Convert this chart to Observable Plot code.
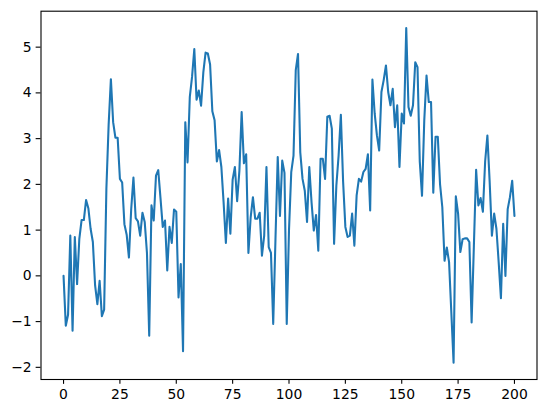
<!DOCTYPE html>
<html><head><meta charset="utf-8">
<script src="https://cdn.jsdelivr.net/npm/d3@7"></script>
<script src="https://cdn.jsdelivr.net/npm/@observablehq/plot@0.6"></script>
<style>body{margin:0;background:#fff}</style>
</head><body><div id="chart"></div>
<script>
const values = [
  0.0, -1.09, -0.85, 0.88, -1.2, 0.85, -0.18, 0.81, 1.22, 1.22,
  1.66, 1.48, 1.03, 0.74, -0.21, -0.62, -0.11, -0.88, -0.74, 1.9,
  3.3, 4.3, 3.36, 3.02, 3.02, 2.12, 2.04, 1.13, 0.9, 0.4,
  1.45, 2.15, 1.26, 1.19, 0.88, 1.38, 1.18, 0.5, -1.31, 1.54,
  1.21, 2.19, 2.31, 1.7, 1.07, 1.21, 0.12, 1.07, 0.72, 1.45,
  1.4, -0.47, 0.26, -1.65, 3.36, 2.48, 3.91, 4.35, 4.96, 3.85,
  4.05, 3.72, 4.45, 4.88, 4.86, 4.62, 3.6, 3.4, 2.5, 2.75,
  2.38, 1.6, 0.72, 1.69, 0.92, 2.1, 2.38, 1.63, 2.3, 3.58,
  2.46, 2.66, 0.5, 1.28, 1.72, 1.25, 1.25, 1.38, 0.44, 0.88,
  2.38, 0.63, 0.5, -1.05, 0.8, 2.6, 1.31, 2.52, 2.25, -1.05,
  1.0, 2.27, 2.63, 4.5, 4.85, 2.7, 2.12, 1.86, 1.18, 2.38,
  1.61, 0.99, 1.33, 0.55, 2.56, 2.56, 2.12, 3.48, 3.5, 3.22,
  0.7, 1.97, 2.63, 3.52, 2.06, 1.07, 0.85, 0.88, 1.36, 0.66,
  1.76, 2.12, 2.06, 2.27, 2.34, 2.66, 1.43, 4.29, 3.55, 3.07,
  2.74, 4.02, 4.28, 4.6, 4.02, 3.73, 4.09, 3.25, 3.73, 2.38,
  3.55, 3.33, 5.42, 3.69, 3.5, 3.73, 4.67, 4.56, 2.5, 1.75,
  3.4, 4.38, 3.8, 3.8, 1.82, 3.04, 3.04, 2.0, 1.5, 0.33,
  0.62, 0.3, -0.8, -1.9, 1.74, 1.36, 0.52, 0.8, 0.82, 0.82,
  0.74, -1.02, 0.65, 2.32, 1.54, 1.7, 1.4, 2.5, 3.07, 2.06,
  0.88, 1.36, 1.03, 0.3, -0.49, 1.14, 0.0, 1.46, 1.72, 2.08,
  1.31
];
const xTicks = [0, 25, 50, 75, 100, 125, 150, 175, 200];
const yTicks = [-2, -1, 0, 1, 2, 3, 4, 5];

const data = values.map((v, i) => ({x: i, y: v}));
const ymin = d3.min(values), ymax = d3.max(values);
const ypad = (ymax - ymin) * 0.05;
const xpad = (values.length - 1) * 0.05;

const chart = Plot.plot({
  width: 546,
  height: 413,
  marginLeft: 40.5,
  marginRight: 9.5,
  marginTop: 10.7,
  marginBottom: 34,
  style: {fontFamily: "DejaVu Sans", fontSize: "13.9px", background: "white", color: "black"},
  x: {domain: [-xpad, values.length - 1 + xpad]},
  y: {domain: [ymin - ypad, ymax + ypad]},
  marks: [
    Plot.line(data, {x: "x", y: "y", stroke: "#1f77b4", strokeWidth: 2.08, strokeLinejoin: "round"}),
    Plot.frame({stroke: "black", strokeWidth: 1.1}),
    Plot.axisX({ticks: xTicks, tickSize: 4.86, tickPadding: 4.5, strokeWidth: 1.1, label: null}),
    Plot.axisY({ticks: yTicks, tickSize: 4.86, tickPadding: 4.5, strokeWidth: 1.1, label: null})
  ]
});
document.getElementById("chart").appendChild(chart);
</script>
</body></html>
